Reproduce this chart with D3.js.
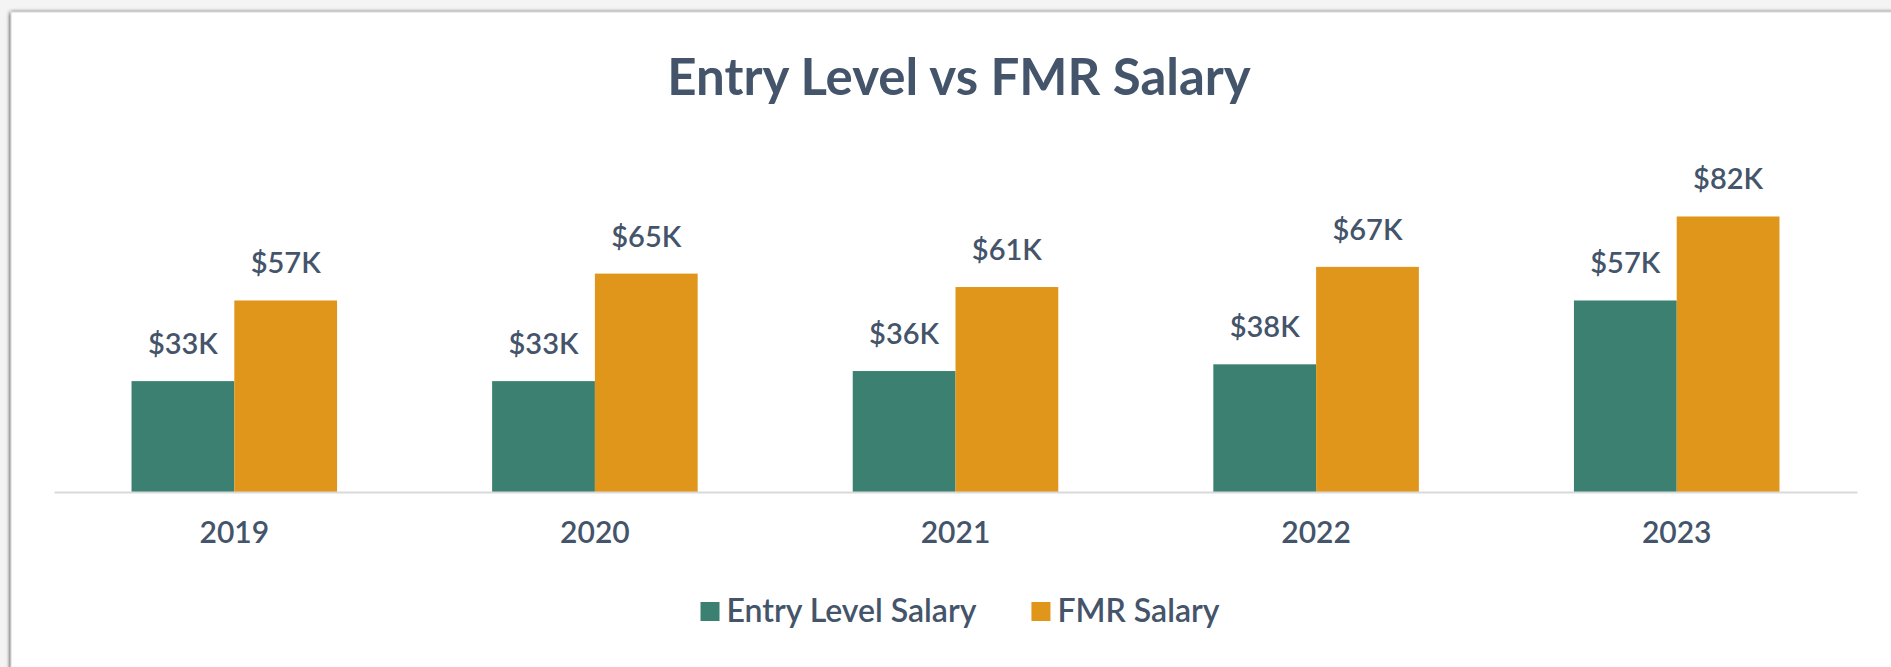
<!DOCTYPE html>
<html>
<head>
<meta charset="utf-8">
<script src="https://cdn.jsdelivr.net/npm/d3@7"></script>
<style>
  body { margin: 0; background: #f4f4f4; overflow: hidden; }
  text { font-family: Lato, "Open Sans", sans-serif; fill: #44546a; }
</style>
</head>
<body>
<svg id="chart"></svg>
<script>

const width = 1891
const height = 667

// data
const years = [ "2019", "2020", "2021", "2022", "2023" ]
const entrySalary = [ 33000, 33000, 36000, 38000, 57000 ]
const fmrSalary = [ 57000, 65000, 61000, 67000, 82000 ]
const seriesNames = [ "Entry Level Salary", "FMR Salary" ]
const seriesColors = [ "#3b8070", "#e0961a" ]

const rows = years.map( ( y, i ) => ({ year: y, values: [ entrySalary[ i ], fmrSalary[ i ] ] }) )

const svg = d3.select("#chart")
              .attr("width", width)
              .attr("height", height)

// card with a soft shadow
const defs = svg.append("defs")
const shadow = defs.append("filter")
                   .attr("id", "shadow")
                   .attr("x", "-5%").attr("y", "-5%")
                   .attr("width", "110%").attr("height", "110%")
shadow.append("feGaussianBlur")
      .attr("in", "SourceAlpha")
      .attr("stdDeviation", 2)
shadow.append("feOffset").attr("dy", 1).attr("result", "blur")
const merge = shadow.append("feMerge")
merge.append("feMergeNode").attr("in", "blur")
merge.append("feMergeNode").attr("in", "SourceGraphic")

svg.append("rect")
   .attr("x", 11)
   .attr("y", 12)
   .attr("width", width + 20)
   .attr("height", height + 20)
   .attr("fill", "#ffffff")
   .attr("stroke", "#d6d6d6")
   .style("filter", "url(#shadow)")

svg.append("text")
   .attr("x", 959)
   .attr("y", 95)
   .attr("text-anchor", "middle")
   .attr("font-size", 51)
   .attr("font-weight", "bold")
   .style("fill", "#44546a")
   .text("Entry Level vs FMR Salary")

const x0 = d3.scaleBand()
             .domain( years )
             .range([ 54, 1857 ])
             .paddingInner( 0.43 )
             .paddingOuter( 0.215 )

const x1 = d3.scaleBand()
             .domain( d3.range( seriesNames.length ) )
             .range([ 0, x0.bandwidth() ])

const y = d3.scaleLinear()
            .domain([ 0, 100000 ])
            .range([ 492, 156 ])

const groups = svg.selectAll(".group")
                  .data( rows )
                  .enter()
                  .append("g")
                  .attr("class", "group")
                  .attr("transform", d => "translate(" + x0( d.year ) + ",0)")

groups.selectAll("rect")
      .data( d => d.values )
      .enter()
      .append("rect")
      .attr("x", ( d, i ) => x1( i ))
      .attr("y", d => y( d ))
      .attr("width", x1.bandwidth())
      .attr("height", d => y( 0 ) - y( d ))
      .attr("fill", ( d, i ) => seriesColors[ i ])

groups.selectAll(".valueLabel")
      .data( d => d.values )
      .enter()
      .append("text")
      .attr("class", "valueLabel")
      .attr("x", ( d, i ) => x1( i ) + x1.bandwidth() / 2)
      .attr("y", d => y( d ) - 27)
      .attr("text-anchor", "middle")
      .attr("font-size", 29)
      .attr("font-weight", 600)
      .text( d => "$" + Math.round( d / 1000 ) + "K" )

// x axis
const xAxis = svg.append("g")
                 .attr("transform", "translate(0," + y( 0 ) + ")")
                 .call( d3.axisBottom( x0 ).tickSize( 0 ).tickPadding( 0 ) )

xAxis.select(".domain")
     .attr("stroke", "#d9d9d9")
     .attr("stroke-width", 2)

xAxis.selectAll("text")
     .attr("dy", null)
     .attr("y", 51)
     .attr("font-size", 30)
     .attr("font-weight", 600)
     .attr("font-family", null)
     .style("fill", "#44546a")

// legend
const legend = svg.append("g")
let legendX = 0
seriesNames.forEach( ( name, i ) => {
  const item = legend.append("g").attr("transform", "translate(" + legendX + ",0)")
  item.append("rect")
      .attr("x", 0)
      .attr("y", -20)
      .attr("width", 19)
      .attr("height", 19)
      .attr("fill", seriesColors[ i ])
  const t = item.append("text")
                .attr("x", 26)
                .attr("y", 0)
                .attr("font-size", 32)
                .attr("font-weight", 600)
                .text( name )
  legendX = legendX + 26 + t.node().getComputedTextLength() + 55
})
const legendWidth = legendX - 55
legend.attr("transform", "translate(" + ( 960 - legendWidth / 2 ) + ",622)")

</script>
</body>
</html>
